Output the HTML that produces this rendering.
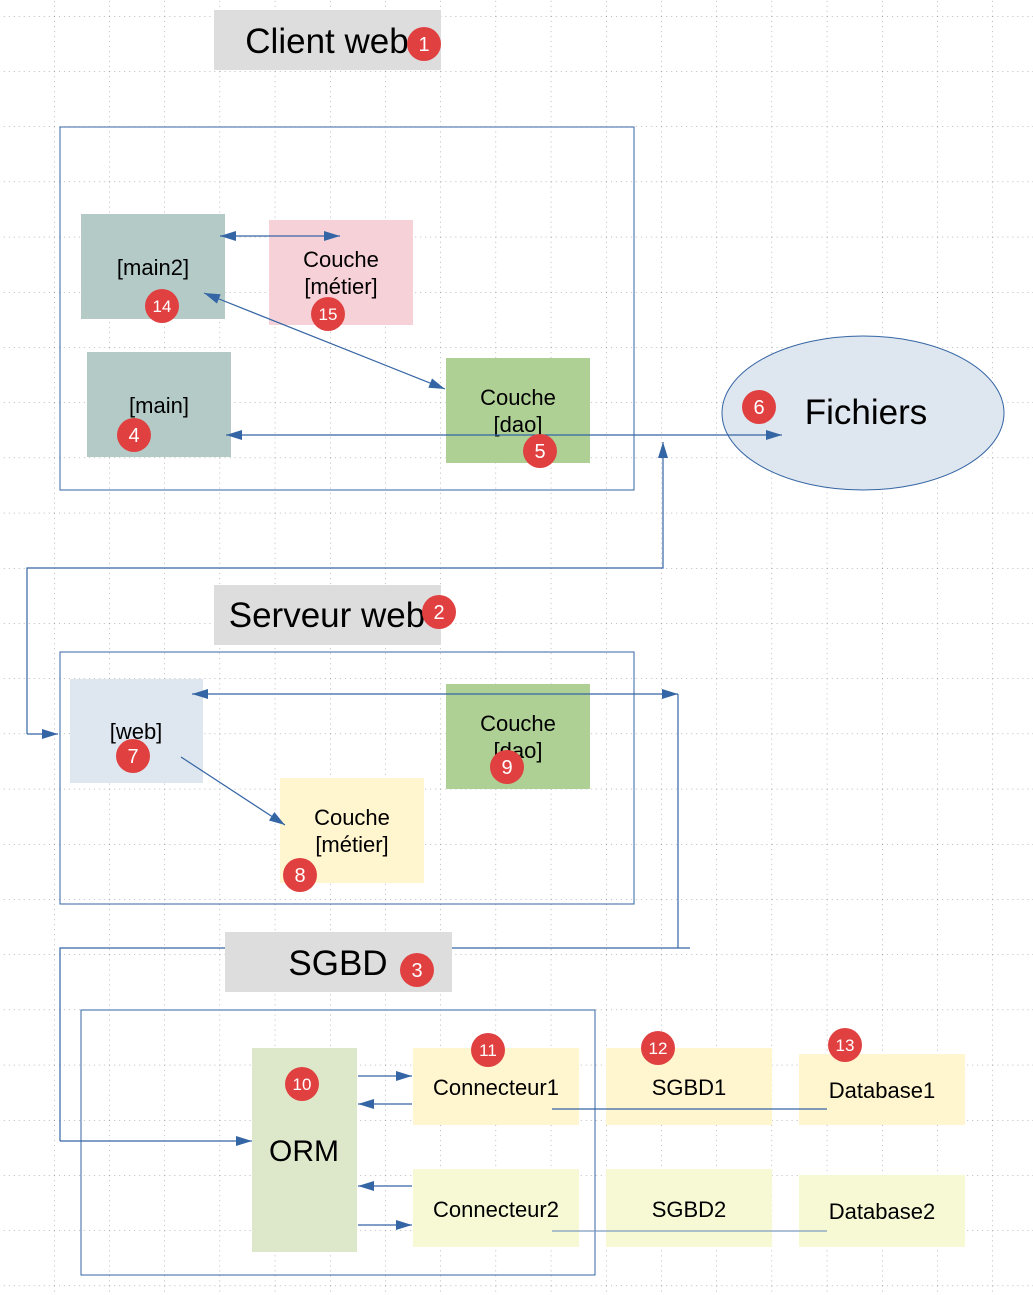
<!DOCTYPE html>
<html><head><meta charset="utf-8"><style>
html,body{margin:0;padding:0;background:#fff}
svg{display:block}
text{font-family:"Liberation Sans",sans-serif}
</style></head><body>
<svg width="1033" height="1295" viewBox="0 0 1033 1295" xmlns="http://www.w3.org/2000/svg">
<defs>
<pattern id="g" x="54" y="16" width="55.2" height="55.2" patternUnits="userSpaceOnUse">
<line x1="0" y1="0" x2="55.2" y2="0" stroke="#777" stroke-width="1" stroke-dasharray="1,4"/>
<line x1="0" y1="0" x2="0" y2="55.2" stroke="#777" stroke-width="1" stroke-dasharray="1,4"/>
</pattern>
<marker id="b" markerWidth="16" markerHeight="10" refX="16" refY="5" orient="auto-start-reverse" markerUnits="userSpaceOnUse"><path d="M0,0 L16,5 L0,10z" fill="#3465a4"/></marker>
</defs>
<rect width="1033" height="1295" fill="url(#g)"/>
<g fill="none" stroke="#3465a4" stroke-width="1">
<rect x="60" y="127" width="574" height="363"/>
<rect x="60" y="652" width="574" height="252"/>
<rect x="81" y="1010" width="514" height="265"/>
</g>
<rect x="214" y="10" width="227" height="60" fill="#dddddd"/>
<text x="327" y="53" font-size="35" text-anchor="middle">Client web</text>
<rect x="214" y="585" width="227" height="60" fill="#dddddd"/>
<text x="327" y="627" font-size="35" text-anchor="middle">Serveur web</text>
<rect x="225" y="932" width="227" height="60" fill="#dddddd"/>
<text x="338" y="975" font-size="35" text-anchor="middle">SGBD</text>
<g font-size="22" text-anchor="middle">
<rect x="81" y="214" width="144" height="105" fill="#b3cac7"/>
<text x="153" y="275">[main2]</text>
<rect x="269" y="220" width="144" height="105" fill="#f7d1d8"/>
<text x="341" y="267">Couche</text>
<text x="341" y="294">[métier]</text>
<rect x="87" y="352" width="144" height="105" fill="#b3cac7"/>
<text x="159" y="413">[main]</text>
<rect x="446" y="358" width="144" height="105" fill="#afd095"/>
<text x="518" y="405">Couche</text>
<text x="518" y="432">[dao]</text>
<rect x="70" y="679" width="133" height="104" fill="#dee6ef"/>
<text x="136" y="739">[web]</text>
<rect x="446" y="684" width="144" height="105" fill="#afd095"/>
<text x="518" y="731">Couche</text>
<text x="518" y="758">[dao]</text>
<rect x="280" y="778" width="144" height="105" fill="#fff5ce"/>
<text x="352" y="825">Couche</text>
<text x="352" y="852">[métier]</text>
<rect x="413" y="1048" width="166" height="77" fill="#fff5ce"/>
<text x="496" y="1095">Connecteur1</text>
<rect x="606" y="1048" width="166" height="77" fill="#fff5ce"/>
<text x="689" y="1095">SGBD1</text>
<rect x="799" y="1054" width="166" height="71" fill="#fff5ce"/>
<text x="882" y="1098">Database1</text>
<rect x="413" y="1169" width="166" height="78" fill="#f6f9d4"/>
<text x="496" y="1217">Connecteur2</text>
<rect x="606" y="1169" width="166" height="78" fill="#f6f9d4"/>
<text x="689" y="1217">SGBD2</text>
<rect x="799" y="1175" width="166" height="72" fill="#f6f9d4"/>
<text x="882" y="1219">Database2</text>
</g>
<ellipse cx="863" cy="413" rx="141" ry="77" fill="#dee6ef" stroke="#3465a4"/>
<text x="866" y="424" font-size="35" text-anchor="middle">Fichiers</text>
<rect x="252" y="1048" width="105" height="204" fill="#dde8cb"/>
<text x="304" y="1161" font-size="30" text-anchor="middle">ORM</text>
<g fill="none" stroke="#3465a4" stroke-width="1.2">
<line x1="220" y1="236" x2="340" y2="236" marker-start="url(#b)" marker-end="url(#b)"/>
<line x1="204" y1="293" x2="445" y2="389" marker-start="url(#b)" marker-end="url(#b)"/>
<line x1="226" y1="435" x2="782" y2="435" marker-start="url(#b)" marker-end="url(#b)"/>
<polyline points="27,734 27,568 663,568 663,442" marker-end="url(#b)"/>
<line x1="27" y1="734" x2="58" y2="734" marker-end="url(#b)"/>
<line x1="192" y1="694" x2="678" y2="694" marker-start="url(#b)" marker-end="url(#b)"/>
<polyline points="678,694 678,948 690,948"/>
<polyline points="452,948 678,948"/>
<polyline points="225,948 60,948 60,1141"/>
<line x1="60" y1="1141" x2="252" y2="1141" marker-end="url(#b)"/>
<line x1="181" y1="757" x2="285" y2="825" marker-end="url(#b)"/>
<line x1="358" y1="1076" x2="412" y2="1076" marker-end="url(#b)"/>
<line x1="412" y1="1104" x2="358" y2="1104" marker-end="url(#b)"/>
<line x1="412" y1="1186" x2="358" y2="1186" marker-end="url(#b)"/>
<line x1="358" y1="1225" x2="412" y2="1225" marker-end="url(#b)"/>
<line x1="552" y1="1109" x2="827" y2="1109"/>
<line x1="552" y1="1231" x2="827" y2="1231" stroke="#7f9cc0"/>
</g>
<g font-size="20" fill="#fff" text-anchor="middle">
<circle cx="424" cy="44" r="17" fill="#e04040"/><text x="424" y="51">1</text>
<circle cx="439" cy="612" r="17" fill="#e04040"/><text x="439" y="619">2</text>
<circle cx="417" cy="970" r="17" fill="#e04040"/><text x="417" y="977">3</text>
<circle cx="134" cy="435" r="17" fill="#e04040"/><text x="134" y="442">4</text>
<circle cx="540" cy="451" r="17" fill="#e04040"/><text x="540" y="458">5</text>
<circle cx="759" cy="407" r="17" fill="#e04040"/><text x="759" y="414">6</text>
<circle cx="133" cy="756" r="17" fill="#e04040"/><text x="133" y="763">7</text>
<circle cx="300" cy="875" r="17" fill="#e04040"/><text x="300" y="882">8</text>
<circle cx="507" cy="767" r="17" fill="#e04040"/><text x="507" y="774">9</text>
<circle cx="302" cy="1084" r="17" fill="#e04040"/><text x="302" y="1090" font-size="17">10</text>
<circle cx="488" cy="1050" r="17" fill="#e04040"/><text x="488" y="1056" font-size="17">11</text>
<circle cx="658" cy="1048" r="17" fill="#e04040"/><text x="658" y="1054" font-size="17">12</text>
<circle cx="845" cy="1045" r="17" fill="#e04040"/><text x="845" y="1051" font-size="17">13</text>
<circle cx="162" cy="306" r="17" fill="#e04040"/><text x="162" y="312" font-size="17">14</text>
<circle cx="328" cy="314" r="17" fill="#e04040"/><text x="328" y="320" font-size="17">15</text>
</g>
</svg>
</body></html>
